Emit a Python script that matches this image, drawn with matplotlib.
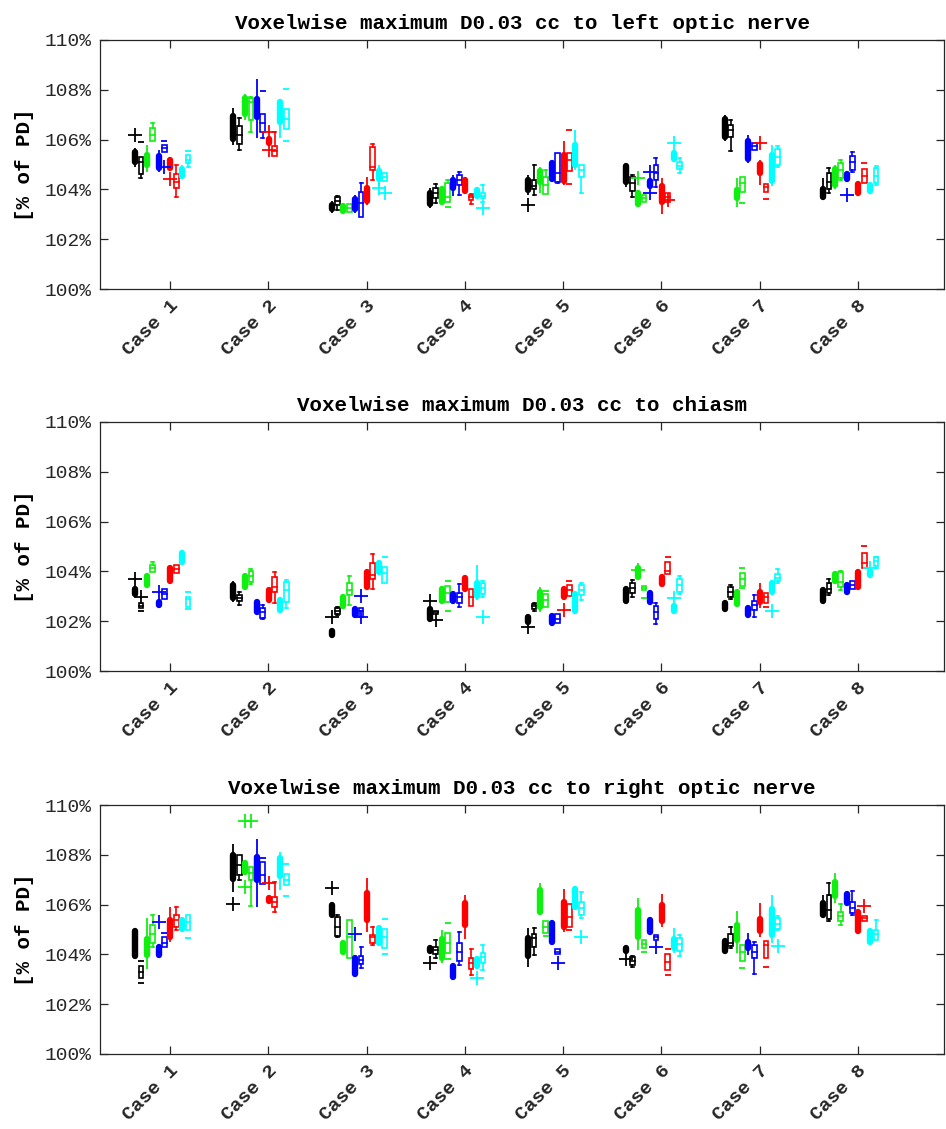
import numpy as np
import matplotlib.pyplot as plt
from matplotlib.patches import Rectangle

plt.rcParams['font.family'] = ['Liberation Mono', 'DejaVu Sans Mono']

cases = ["Case 1", "Case 2", "Case 3", "Case 4", "Case 5", "Case 6", "Case 7", "Case 8"]
titles = ["Voxelwise maximum D0.03 cc to left optic nerve",
          "Voxelwise maximum D0.03 cc to chiasm",
          "Voxelwise maximum D0.03 cc to right optic nerve"]
ytick_vals = [100, 102, 104, 106, 108, 110]

# 10 box slots per case: (filled, open) for black, green, blue, red, cyan
slot_colors = ['k', 'k', '#10f010', '#10f010', '#0000ff', '#0000ff',
               '#ff0000', '#ff0000', '#00ffff', '#00ffff']

# each box: (whisker low, q1, median, q3, whisker high)  [% of PD]
left_boxes = [
    [(104.9, 105.0, 105.3, 105.62, 105.65), (104.47, 104.62, 105.1, 105.3, 105.3),
     (104.7, 104.86, 105.2, 105.5, 105.8), (105.94, 105.94, 106.2, 106.47, 106.67),
     (104.7, 104.74, 105.1, 105.46, 105.6), (105.5, 105.5, 105.65, 105.8, 105.8),
     (104.74, 104.74, 105.0, 105.3, 105.3), (103.7, 104.06, 104.3, 104.6, 104.98),
     (104.42, 104.42, 104.7, 104.94, 105.0), (104.91, 105.06, 105.2, 105.38, 105.38)],
    [(105.78, 105.92, 106.5, 107.05, 107.25), (105.58, 105.82, 106.18, 106.55, 106.86),
     (106.8, 106.92, 107.3, 107.79, 107.85), (106.32, 106.79, 107.5, 107.66, 107.72),
     (106.05, 106.79, 107.3, 107.75, 108.42), (106.05, 106.32, 106.65, 107.03, 107.03),
     (105.74, 105.74, 105.9, 106.12, 106.12), (105.34, 105.34, 105.55, 105.74, 106.3),
     (106.05, 106.59, 107.1, 107.62, 107.62), (106.41, 106.41, 106.81, 107.22, 107.22)],
    [(103.07, 103.1, 103.3, 103.5, 103.55), (103.18, 103.37, 103.54, 103.71, 103.74),
     (103.01, 103.01, 103.2, 103.44, 103.44), (103.1, 103.1, 103.26, 103.4, 103.4),
     (103.04, 103.1, 103.4, 103.71, 103.77), (102.9, 102.9, 103.44, 103.91, 104.24),
     (103.37, 103.44, 103.8, 104.17, 104.5), (104.38, 104.78, 104.91, 105.72, 105.82),
     (104.0, 104.31, 104.6, 104.85, 104.98), (104.35, 104.35, 104.5, 104.64, 104.64)],
    [(103.24, 103.31, 103.6, 103.97, 104.04), (103.44, 103.64, 103.84, 104.04, 104.2),
     (103.37, 103.37, 103.7, 104.11, 104.11), (103.5, 103.5, 103.7, 104.24, 104.38),
     (103.73, 103.95, 104.2, 104.48, 104.58), (103.77, 104.17, 104.38, 104.58, 104.71),
     (103.82, 103.82, 104.1, 104.48, 104.48), (103.41, 103.57, 103.68, 103.77, 103.81),
     (103.64, 103.64, 103.85, 104.08, 104.08), (103.5, 103.64, 103.74, 103.84, 104.18)],
    [(103.77, 103.87, 104.2, 104.48, 104.58), (103.77, 104.0, 104.13, 104.38, 104.98),
     (103.84, 104.18, 104.5, 104.85, 104.91), (103.82, 103.82, 104.18, 104.51, 104.78),
     (104.31, 104.31, 104.7, 105.18, 105.18), (104.24, 104.31, 104.65, 105.45, 105.45),
     (104.18, 104.22, 104.8, 105.48, 105.94), (104.75, 104.75, 105.18, 105.45, 105.45),
     (104.78, 104.85, 105.3, 105.88, 106.39), (103.84, 104.48, 104.78, 104.98, 104.98)],
    [(104.11, 104.18, 104.6, 105.05, 105.05), (103.71, 103.95, 104.24, 104.51, 104.58),
     (103.31, 103.31, 103.6, 103.97, 103.97), (103.5, 103.5, 103.64, 103.77, 103.77),
     (104.04, 104.04, 104.25, 104.44, 104.44), (104.11, 104.38, 104.64, 104.98, 105.25),
     (103.0, 103.37, 103.8, 104.24, 104.44), (103.5, 103.5, 103.71, 103.84, 103.84),
     (105.11, 105.11, 105.35, 105.58, 105.58), (104.64, 104.8, 104.95, 105.11, 105.25)],
    [(105.95, 106.01, 106.5, 106.95, 106.99), (105.56, 106.12, 106.39, 106.59, 106.79),
     (103.28, 103.55, 103.8, 104.08, 104.44), (103.91, 103.91, 104.24, 104.48, 104.48),
     (105.05, 105.11, 105.6, 106.05, 106.18), (105.58, 105.58, 105.74, 105.88, 105.88),
     (104.18, 104.54, 104.85, 105.15, 105.18), (103.91, 103.91, 104.08, 104.2, 104.2),
     (104.14, 104.24, 104.85, 105.48, 105.78), (104.91, 104.98, 105.29, 105.61, 105.74)],
    [(103.57, 103.6, 103.85, 104.13, 104.44), (103.84, 104.0, 104.31, 104.64, 104.84),
     (104.0, 104.08, 104.5, 104.91, 104.98), (104.38, 104.44, 104.78, 105.05, 105.18),
     (104.31, 104.31, 104.5, 104.71, 104.71), (104.71, 104.78, 105.11, 105.34, 105.51),
     (103.74, 103.74, 104.0, 104.34, 104.34), (104.27, 104.27, 104.54, 104.8, 104.8),
     (103.82, 103.82, 104.05, 104.27, 104.27), (104.18, 104.27, 104.54, 104.87, 104.94)],
]
# outliers: (case index, slot, value)
left_plus = [(0, 0, 106.2), (0, 5, 104.9), (0, 6, 104.4), (1, 6, 106.32), (1, 6, 105.58),
             (2, 8, 104.04), (2, 9, 103.84), (3, 9, 103.24), (4, 0, 103.37), (5, 2, 104.45),
             (5, 4, 104.71), (5, 4, 103.84), (5, 7, 103.57), (5, 8, 105.85), (6, 6, 105.88),
             (7, 4, 103.77)]
left_dash = [(0, 1, 105.9), (0, 5, 105.96), (0, 9, 105.55), (1, 5, 107.96), (1, 9, 108.03),
             (1, 9, 105.94), (3, 3, 103.31), (4, 7, 106.39), (4, 7, 104.22), (6, 3, 103.47),
             (6, 7, 103.6), (7, 7, 105.05)]

chiasm_boxes = [
    [(102.98, 102.98, 103.2, 103.41, 103.41), (102.52, 102.52, 102.62, 102.72, 102.72),
     (103.36, 103.36, 103.65, 103.92, 103.92), (103.99, 103.99, 104.12, 104.26, 104.39),
     (102.56, 102.56, 102.7, 102.88, 102.88), (102.88, 102.88, 103.09, 103.28, 103.28),
     (103.52, 103.52, 103.9, 104.26, 104.26), (103.92, 103.92, 104.08, 104.26, 104.26),
     (104.26, 104.26, 104.55, 104.86, 104.86), (102.58, 102.58, 102.88, 102.96, 102.96)],
    [(102.78, 102.82, 103.2, 103.55, 103.63), (102.65, 102.82, 102.95, 103.05, 103.19),
     (103.25, 103.25, 103.6, 103.92, 103.92), (103.48, 103.59, 103.8, 104.03, 104.08),
     (102.25, 102.25, 102.55, 102.88, 102.88), (102.08, 102.12, 102.38, 102.52, 102.65),
     (102.74, 102.74, 103.05, 103.36, 103.36), (102.72, 103.19, 103.36, 103.76, 103.99),
     (102.32, 102.32, 102.65, 102.96, 102.96), (102.52, 102.78, 103.25, 103.59, 103.65)],
    [(101.35, 101.35, 101.5, 101.71, 101.71), (102.25, 102.29, 102.4, 102.52, 102.58),
     (102.52, 102.52, 102.8, 103.09, 103.09), (102.65, 103.05, 103.25, 103.55, 103.82),
     (102.12, 102.12, 102.35, 102.58, 102.58), (102.18, 102.18, 102.42, 102.54, 102.54),
     (103.28, 103.28, 103.7, 104.08, 104.08), (103.28, 103.68, 103.85, 104.32, 104.7),
     (103.85, 103.85, 104.15, 104.43, 104.43), (103.55, 103.55, 103.92, 104.16, 104.16)],
    [(101.98, 101.98, 102.3, 102.58, 102.58), (102.29, 102.29, 102.35, 102.42, 102.42),
     (102.69, 102.69, 103.05, 103.41, 103.41), (102.78, 102.78, 103.12, 103.41, 103.41),
     (102.69, 102.69, 102.95, 103.19, 103.19), (102.56, 102.74, 102.96, 103.12, 103.5),
     (103.19, 103.19, 103.5, 103.85, 103.85), (102.61, 102.61, 102.96, 103.28, 103.28),
     (102.85, 102.92, 103.3, 103.65, 104.26), (102.99, 103.09, 103.32, 103.52, 103.63)],
    [(101.85, 101.85, 102.05, 102.29, 102.29), (102.42, 102.48, 102.6, 102.69, 102.74),
     (102.38, 102.45, 102.85, 103.28, 103.36), (102.58, 102.58, 102.85, 103.09, 103.09),
     (101.81, 101.81, 102.05, 102.32, 102.32), (101.91, 101.91, 102.1, 102.29, 102.29),
     (102.88, 102.88, 103.15, 103.39, 103.39), (103.01, 103.01, 103.25, 103.45, 103.45),
     (102.29, 102.29, 102.75, 103.19, 103.19), (102.85, 103.05, 103.25, 103.45, 103.55)],
    [(102.69, 102.69, 103.05, 103.39, 103.39), (102.96, 103.15, 103.32, 103.55, 103.65),
     (103.68, 103.68, 104.0, 104.26, 104.26), (103.25, 103.25, 103.33, 103.41, 103.41),
     (102.65, 102.65, 102.95, 103.23, 103.23), (101.88, 102.07, 102.38, 102.61, 102.74),
     (103.39, 103.39, 103.65, 103.9, 103.9), (103.9, 103.9, 104.0, 104.39, 104.39),
     (102.29, 102.29, 102.5, 102.74, 102.74), (103.09, 103.19, 103.45, 103.68, 103.82)],
    [(102.38, 102.38, 102.6, 102.85, 102.85), (102.88, 102.96, 103.19, 103.39, 103.45),
     (102.58, 102.58, 102.95, 103.28, 103.28), (103.41, 103.41, 103.7, 103.95, 103.95),
     (102.15, 102.15, 102.4, 102.65, 102.65), (102.15, 102.45, 102.65, 102.82, 103.05),
     (102.52, 102.65, 102.95, 103.28, 103.52), (102.74, 102.74, 102.96, 103.15, 103.15),
     (103.05, 103.05, 103.35, 103.63, 103.63), (103.52, 103.63, 103.75, 103.9, 104.08)],
    [(102.72, 102.72, 103.05, 103.36, 103.36), (103.05, 103.12, 103.28, 103.55, 103.68),
     (103.52, 103.52, 103.75, 103.99, 103.99), (103.25, 103.39, 103.58, 103.99, 104.03),
     (103.05, 103.05, 103.3, 103.55, 103.55), (103.28, 103.28, 103.45, 103.63, 103.63),
     (103.28, 103.28, 103.7, 104.08, 104.08), (104.12, 104.12, 104.32, 104.75, 104.75),
     (103.76, 103.76, 103.95, 104.12, 104.12), (104.12, 104.22, 104.4, 104.56, 104.59)],
]
chiasm_plus = [(0, 0, 103.68), (0, 1, 102.98), (0, 4, 103.19), (2, 0, 102.16), (2, 5, 102.16),
               (2, 5, 103.01), (3, 0, 102.82), (3, 1, 102.05), (3, 9, 102.16), (4, 0, 101.75),
               (4, 6, 102.45), (5, 2, 104.06), (5, 8, 102.92), (6, 8, 102.42), (7, 8, 104.12)]
chiasm_dash = [(0, 1, 102.42), (0, 9, 103.19), (0, 9, 102.48), (2, 9, 104.59), (3, 3, 103.63),
               (3, 3, 102.42), (4, 3, 103.23), (4, 7, 103.63), (5, 3, 102.92), (5, 7, 104.59),
               (6, 3, 104.12), (6, 3, 103.32), (6, 7, 102.58), (7, 7, 105.02)]

right_boxes = [
    [(103.84, 103.84, 104.45, 105.05, 105.05), (103.04, 103.04, 103.3, 103.54, 103.54),
     (103.4, 103.88, 104.3, 104.74, 105.45), (104.31, 104.45, 104.8, 105.18, 105.58),
     (103.88, 103.88, 104.15, 104.42, 104.42), (104.28, 104.28, 104.45, 104.69, 104.69),
     (104.51, 104.6, 105.05, 105.49, 105.89), (104.98, 105.09, 105.4, 105.58, 105.89),
     (104.91, 104.91, 105.2, 105.49, 105.49), (105.0, 105.0, 105.3, 105.58, 105.58)],
    [(106.52, 106.92, 107.5, 108.09, 108.43), (106.99, 107.19, 107.6, 107.99, 107.99),
     (107.19, 107.19, 107.5, 107.79, 107.79), (105.94, 106.99, 107.25, 107.5, 107.5),
     (105.9, 106.88, 107.4, 108.03, 108.62), (106.83, 106.83, 107.2, 107.72, 107.72),
     (106.02, 106.02, 106.2, 106.39, 106.39), (105.72, 105.89, 106.1, 106.32, 106.92),
     (106.58, 107.02, 107.5, 107.99, 108.13), (106.79, 106.79, 107.0, 107.23, 107.23)],
    [(105.49, 105.49, 105.8, 106.08, 106.08), (104.68, 104.74, 105.1, 105.49, 105.58),
     (103.98, 103.98, 104.25, 104.55, 104.55), (103.84, 103.84, 104.7, 105.38, 105.38),
     (103.11, 103.11, 103.5, 103.98, 103.98), (103.44, 103.62, 103.78, 103.94, 104.31),
     (104.91, 105.28, 105.9, 106.56, 107.05), (104.38, 104.47, 104.71, 104.78, 105.09),
     (104.34, 104.34, 104.75, 105.18, 105.18), (104.24, 104.24, 104.71, 105.0, 105.0)],
    [(104.04, 104.04, 104.2, 104.38, 104.38), (103.84, 104.02, 104.18, 104.31, 104.58),
     (103.67, 103.75, 104.2, 104.74, 104.98), (104.07, 104.07, 104.45, 104.87, 104.87),
     (102.98, 102.98, 103.3, 103.64, 103.64), (103.58, 103.75, 104.1, 104.45, 104.91),
     (104.6, 105.09, 105.6, 106.16, 106.38), (103.17, 103.4, 103.67, 103.84, 104.2),
     (103.44, 103.44, 103.65, 103.91, 103.91), (103.37, 103.67, 103.88, 104.04, 104.38)],
    [(103.5, 103.84, 104.3, 104.78, 105.05), (103.98, 104.31, 104.64, 104.82, 105.05),
     (105.58, 105.58, 106.1, 106.69, 106.88), (104.87, 104.87, 105.11, 105.36, 105.36),
     (104.38, 104.38, 104.85, 105.38, 105.38), (104.02, 104.02, 104.11, 104.2, 104.2),
     (104.91, 104.98, 105.6, 106.21, 106.61), (105.11, 105.11, 105.5, 106.02, 106.02),
     (105.81, 105.81, 106.25, 106.72, 106.72), (105.45, 105.58, 105.85, 106.12, 106.52)],
    [(104.02, 104.02, 104.2, 104.38, 104.38), (103.51, 103.57, 103.72, 103.88, 103.94),
     (104.18, 104.58, 105.2, 105.89, 106.25), (104.24, 104.24, 104.4, 104.58, 104.58),
     (104.78, 104.78, 105.1, 105.49, 105.49), (104.58, 104.58, 104.68, 104.78, 104.78),
     (105.12, 105.25, 105.65, 106.08, 106.43), (103.37, 103.37, 103.7, 104.02, 104.02),
     (104.04, 104.15, 104.45, 104.71, 105.05), (103.94, 104.15, 104.42, 104.65, 104.78)],
    [(104.02, 104.02, 104.35, 104.65, 104.65), (104.25, 104.34, 104.47, 104.82, 105.09),
     (104.04, 104.45, 104.9, 105.31, 105.76), (103.75, 103.75, 104.1, 104.38, 104.38),
     (103.98, 104.15, 104.4, 104.6, 104.85), (103.21, 103.84, 104.1, 104.38, 104.51),
     (104.69, 104.82, 105.2, 105.54, 106.05), (103.84, 103.84, 104.38, 104.55, 104.55),
     (104.47, 104.65, 105.3, 105.94, 106.38), (104.98, 105.01, 105.22, 105.45, 105.54)],
    [(105.45, 105.49, 105.8, 106.16, 106.39), (105.36, 105.41, 105.8, 106.39, 106.86),
     (106.05, 106.25, 106.6, 107.01, 107.25), (105.18, 105.36, 105.55, 105.72, 106.02),
     (105.94, 105.94, 106.2, 106.52, 106.52), (105.58, 105.65, 105.85, 106.12, 106.56),
     (104.82, 104.82, 105.3, 105.81, 105.81), (105.36, 105.36, 105.45, 105.54, 105.54),
     (104.38, 104.38, 104.7, 105.05, 105.05), (104.58, 104.58, 104.8, 104.98, 105.39)],
]
right_plus = [(0, 4, 105.31), (1, 0, 106.02), (1, 2, 106.69), (1, 2, 109.35), (1, 3, 109.35),
              (1, 6, 106.88), (2, 0, 106.65), (2, 4, 104.82), (3, 0, 103.64), (3, 8, 103.04),
              (4, 5, 103.64), (4, 9, 104.71), (5, 0, 103.8), (5, 5, 104.28), (6, 9, 104.34),
              (7, 7, 105.94)]
right_dash = [(0, 1, 103.75), (0, 1, 102.87), (0, 5, 104.87), (0, 9, 104.65), (1, 5, 107.86),
              (1, 9, 107.63), (1, 9, 106.35), (2, 9, 105.41), (2, 9, 104.02), (3, 3, 105.27),
              (3, 3, 103.8), (4, 3, 104.74), (4, 7, 104.98), (5, 3, 104.1), (5, 7, 104.2),
              (5, 7, 103.17), (6, 3, 103.44), (6, 7, 103.51)]

panels = [(left_boxes, left_plus, left_dash),
          (chiasm_boxes, chiasm_plus, chiasm_dash),
          (right_boxes, right_plus, right_dash)]

offsets = -0.356 + 0.06 * np.arange(10)
box_w = 0.048
cap_w = 0.03
fat_lw = 4.6
round_cap = 0.11   # half of the thick line, in %


def draw_panel(ax, boxes, plus, dash):
    for i, case in enumerate(boxes):
        for k, (lo, q1, med, q3, hi) in enumerate(case):
            x = i + 1 + offsets[k]
            col = slot_colors[k]
            if k % 2 == 0:
                # compact style: thin whisker + thick rounded box
                if hi > lo:
                    ax.plot([x, x], [lo, hi], color=col, lw=1.3, solid_capstyle='butt')
                a, b = q1 + round_cap, q3 - round_cap
                if b - a < 0.02:
                    ax.plot(x, (q1 + q3) / 2, 'o', color=col, ms=fat_lw, mew=0)
                else:
                    ax.plot([x, x], [a, b], color=col, lw=fat_lw, solid_capstyle='round')
            else:
                if lo < q1:
                    ax.plot([x, x], [lo, q1], color=col, lw=1.2)
                    ax.plot([x - cap_w / 2, x + cap_w / 2], [lo, lo], color=col, lw=1.2)
                if hi > q3:
                    ax.plot([x, x], [q3, hi], color=col, lw=1.2)
                    ax.plot([x - cap_w / 2, x + cap_w / 2], [hi, hi], color=col, lw=1.2)
                ax.add_patch(Rectangle((x - box_w / 2, q1), box_w, q3 - q1,
                                       fill=False, ec=col, lw=1.2))
                ax.plot([x - box_w / 2, x + box_w / 2], [med, med], color=col, lw=1.2)
    for i, k, v in plus:
        ax.plot(i + 1 + offsets[k], v, '+', color=slot_colors[k], ms=10, mew=1.3)
    for i, k, v in dash:
        ax.plot(i + 1 + offsets[k], v, '_', color=slot_colors[k], ms=4, mew=1.3)


fig = plt.figure(figsize=(9.46, 11.29), dpi=100)
tops = [40, 422, 805]
for p, (boxes, plus, dash) in enumerate(panels):
    top = 1 - tops[p] / 1129
    h = 249 / 1129
    ax = fig.add_axes([100 / 946, top - h, 844 / 946, h])
    draw_panel(ax, boxes, plus, dash)
    ax.set_xlim(0.288, 8.875)
    ax.set_ylim(100, 110)
    ax.set_xticks(np.arange(1, 9))
    ax.set_xticklabels(cases, rotation=45, ha='right', va='top', rotation_mode='anchor',
                       fontsize=14, fontweight='bold')
    ax.set_yticks(ytick_vals)
    ax.set_yticklabels([f"{v}%" for v in ytick_vals], fontsize=14)
    ax.tick_params(direction='in', length=6, width=0.9, top=True, right=True,
                   colors='#262626', pad=6)
    for s in ax.spines.values():
        s.set_linewidth(0.9)
        s.set_color('#262626')
    ax.set_title(titles[p], fontsize=15, fontweight='bold', pad=8)
    ax.set_ylabel("[% of PD]", fontsize=15, fontweight='bold', labelpad=8)

fig.savefig("out.png", dpi=100)
